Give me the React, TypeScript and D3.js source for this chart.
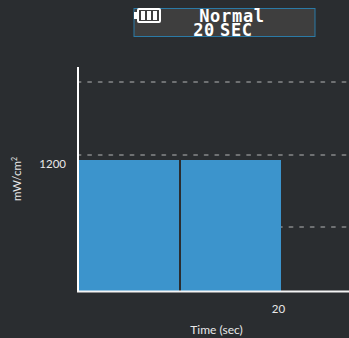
import React from 'react';
import * as d3 from 'd3';

const width = 349;
const height = 338;

// segments of the exposure, seconds and mW/cm2
const segmentStarts = [0, 10];
const segmentEnds = [10, 20];
const segmentPower = [1200, 1200];
const xTicks = [20];
const yTicks = [1200];
const gridValues = [1915, 1246, 586];
const batteryCells = [0, 1, 2];

const bg = '#2a2d30';
const barColor = '#3c94cc';
const labelFont = 'Lato, sans-serif';

const x = d3.scaleLinear().domain([0, 20]).range([79, 281]);
const y = d3.scaleLinear().domain([0, 1200]).range([291, 160]);

export default function App() {
    return (
        <svg width={width} height={height} style={{ position: 'absolute', left: 0, top: 0, background: bg }}>
            {/* mode banner */}
            <rect x={134} y={8.5} width={181} height={28} fill="#3e3e3e" stroke="#2b7aa6" strokeWidth={1} />
            <rect x={138} y={9} width={22} height={13} rx={1} fill="none" stroke="#fff" strokeWidth={2} />
            <rect x={134} y={12} width={3} height={7} fill="#fff" />
            {batteryCells.map(i => (
                <rect key={i} x={141 + i * 6} y={11} width={4} height={9} fill="#fff" />
            ))}
            <text x={232} y={21.5} textAnchor="middle" fill="#fff" fontFamily="'DejaVu Sans Mono', monospace" fontWeight="bold" fontSize={17} letterSpacing={0.7}>Normal</text>
            <text x={223} y={36} textAnchor="middle" fill="#fff" fontFamily="'DejaVu Sans Mono', monospace" fontWeight="bold" fontSize={17} letterSpacing={0.7} wordSpacing={-6}>20 SEC</text>

            {/* threshold lines */}
            {gridValues.map(v => (
                <line key={v} x1={x(0)} x2={width} y1={y(v)} y2={y(v)} stroke="#6f7173" strokeWidth={2} strokeLinecap="round" strokeDasharray="3 7.6" strokeDashoffset={1.5} />
            ))}

            {/* bars */}
            {segmentStarts.map((s, i) => (
                <rect key={s} x={x(s)} y={y(segmentPower[i])} width={x(segmentEnds[i]) - x(s)} height={y(0) - y(segmentPower[i])} fill={barColor} />
            ))}
            {segmentStarts.slice(1).map(s => (
                <line key={s} x1={Math.round(x(s))} x2={Math.round(x(s))} y1={y(1200)} y2={y(0)} stroke={bg} strokeWidth={2} />
            ))}

            {/* axes */}
            <line x1={78} x2={78} y1={67} y2={292} stroke="#fff" strokeWidth={2} />
            <line x1={77} x2={width} y1={291.5} y2={291.5} stroke="#f4f4f4" strokeWidth={2} />

            {yTicks.map(t => (
                <text key={t} x={66} y={y(t) + 8} textAnchor="end" fill="#e8e8e8" fontFamily={labelFont} fontSize={11.5}>{t}</text>
            ))}
            {xTicks.map(t => (
                <text key={t} x={x(t) - 2.5} y={313} textAnchor="middle" fill="#e8e8e8" fontFamily={labelFont} fontSize={11.5}>{t}</text>
            ))}
            <text x={216.5} y={334} textAnchor="middle" fill="#e8e8e8" fontFamily={labelFont} fontSize={12}>Time (sec)</text>
            <text transform="translate(21,179) rotate(-90)" textAnchor="middle" fill="#e8e8e8" fontFamily={labelFont} fontSize={11.5}>
                mW/cm<tspan dy={-4} fontSize={7}>2</tspan>
            </text>
        </svg>
    );
}
